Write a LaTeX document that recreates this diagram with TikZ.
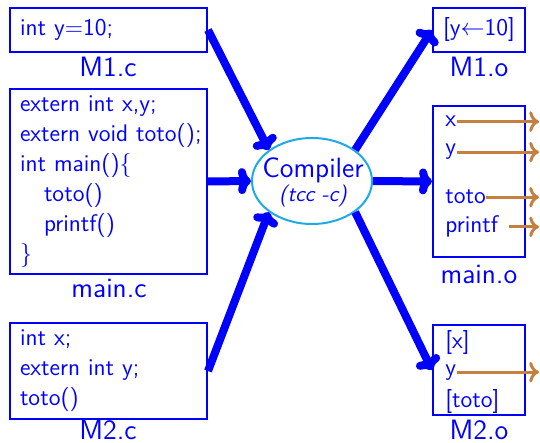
\documentclass[tikz,border=0pt]{standalone}
\usepackage{fontspec}
\usetikzlibrary{shapes.geometric,arrows.meta}
\definecolor{ccode}{RGB}{0,0,255}
\definecolor{cring}{RGB}{30,170,230}
\definecolor{clink}{RGB}{196,128,64}
\begin{document}
\begin{tikzpicture}[x=0.5pt,y=-0.5pt,
  src/.style={draw=ccode,text=ccode,line width=1pt,inner xsep=5pt,text width=88.5pt,align=left,font=\sffamily\fontsize{12}{15}\selectfont},
  obj/.style={draw=ccode,text=ccode,line width=1pt,minimum width=46pt,inner sep=0pt,font=\sffamily\fontsize{12}{15}\selectfont},
  sym/.style={text=ccode,inner sep=0pt,anchor=base west,font=\sffamily\fontsize{12}{15}\selectfont},
  lbl/.style={text=ccode,anchor=base,font=\sffamily\fontsize{14}{17}\selectfont},
  pass/.style={draw=ccode,line width=4pt,-{To[length=6.5pt,width=13pt]}},
  ext/.style={draw=clink,line width=1.5pt,->}]
\useasboundingbox (0,0) rectangle (540,443);
\node[src,minimum height=22pt] (m1c) at (108.5,30) {int y=10;};
\node[src,minimum height=90.5pt] (mainc) at (108.5,181.5) {extern int x,y;\\\mbox{extern void toto();}\\int main()\{\\\hspace*{1em}toto()\\\hspace*{1em}printf()\\\}};
\node[src,minimum height=46pt] (m2c) at (108.5,371) {int x;\\extern int y;\\toto()};
\node[lbl] (m1cl) at (108,77) {M1.c};
\node[lbl] (maincl) at (109,297) {main.c};
\node[lbl] (m2cl) at (108,439) {M2.c};

\node[ellipse,draw=cring,line width=1pt,minimum width=60pt,minimum height=43pt,inner sep=0pt] (comp) at (312,181) {};
\node[lbl] (compa) at (313,178) {Compiler};
\node[lbl,font=\sffamily\itshape\fontsize{11}{13}\selectfont] (compb) at (313,202) {(tcc -c)};

\node[obj,minimum height=22pt] (m1o) at (479,30) {[y$\leftarrow$10]};
\node[obj,minimum height=75.5pt] (maino) at (479,181.5) {};
\node[obj,minimum height=45pt] (m2o) at (479,370) {};
\node[lbl] (m1ol) at (479,77) {M1.o};
\node[lbl] (mainol) at (479,283) {main.o};
\node[lbl] (m2ol) at (479,439) {M2.o};

\node[sym] (mox) at (445,127) {x};
\node[sym] (moy) at (445,155) {y};
\node[sym] (mot) at (445,204) {toto};
\node[sym] (mopf) at (445,233) {printf};
\node[sym] (m2x) at (445,348) {[x]};
\node[sym] (m2y) at (445,375) {y};
\node[sym] (m2t) at (445,407) {[toto]};
\coordinate (rim) at (539,0);

\draw[pass] (m1c.east) -- (comp.north west);
\draw[pass] (mainc.east) -- (comp.west);
\draw[pass] (m2c.east) -- (comp.south west);
\draw[pass] (comp.north east) -- (m1o.west);
\draw[pass] (comp.east) -- (maino.west);
\draw[pass] (comp.south east) -- (m2o.west);

\draw[ext] (mox.east) -- (mox.east -| rim);
\draw[ext] (moy.east) -- (moy.east -| rim);
\draw[ext] (mot.east) -- (mot.east -| rim);
\draw[ext,shorten <=5.5pt] (mopf.east) -- (mopf.east -| rim);
\draw[ext] (m2y.east) -- (m2y.east -| rim);
\end{tikzpicture}
\end{document}
